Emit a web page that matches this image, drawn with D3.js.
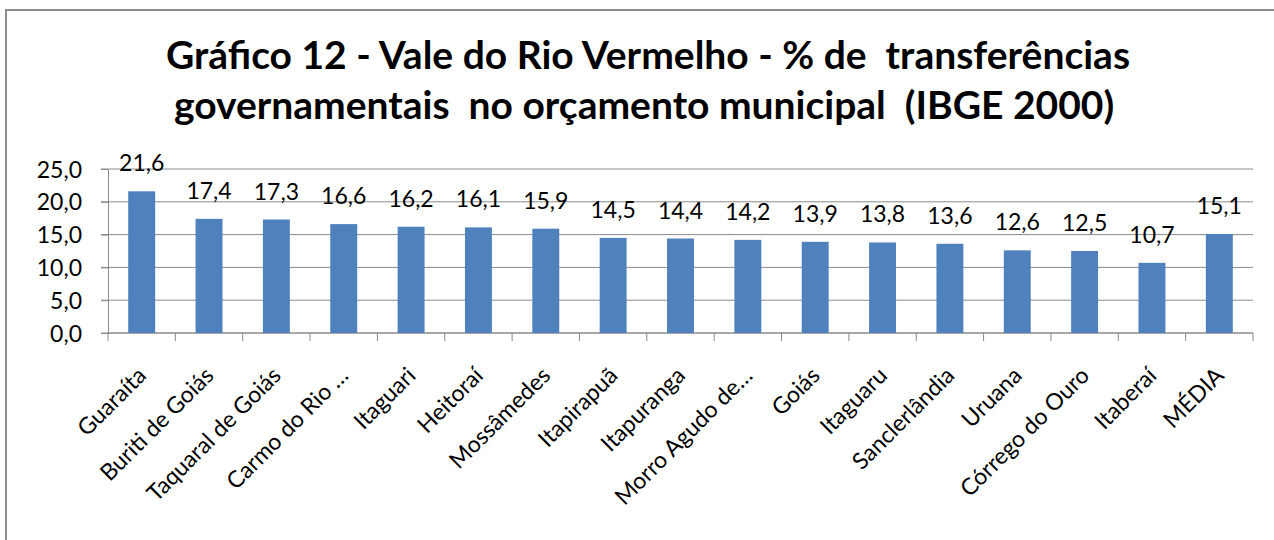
<!DOCTYPE html>
<html>
<head>
<meta charset="utf-8">
<script src="https://cdn.jsdelivr.net/npm/d3@7"></script>
<style>
  body { margin: 0; background: #fff; }
  svg { display: block; font-family: Lato, "Open Sans", sans-serif; }
</style>
</head>
<body>
<svg></svg>
<script>
// chart data
var municipios = ["Guaraíta", "Buriti de Goiás", "Taquaral de Goiás", "Carmo do Rio …", "Itaguari",
  "Heitoraí", "Mossâmedes", "Itapirapuã", "Itapuranga", "Morro Agudo de…", "Goiás",
  "Itaguaru", "Sanclerlândia", "Uruana", "Córrego do Ouro", "Itaberaí", "MÉDIA"];
var percentuais = [21.6, 17.4, 17.3, 16.6, 16.2, 16.1, 15.9, 14.5, 14.4, 14.2, 13.9, 13.8, 13.6, 12.6, 12.5, 10.7, 15.1];
var yTicks = [0, 5, 10, 15, 20, 25];
var titulo = ["Gráfico 12 - Vale do Rio Vermelho - % de  transferências",
  "governamentais  no orçamento municipal  (IBGE 2000)"];

window.onload = function(){
  var svg = d3.select("svg")
    .attr("width", 1274)
    .attr("height", 540);

  // outer chart frame
  svg.append("rect")
    .attr("x", 6).attr("y", 10)
    .attr("width", 1300).attr("height", 560)
    .attr("fill", "none")
    .attr("stroke", "#8c8c8c")
    .attr("stroke-width", 2);

  // title
  svg.append("text")
    .attr("text-anchor", "middle")
    .style("font-size", "39px")
    .style("font-weight", "bold")
    .attr("fill", "#000")
    .selectAll("tspan")
    .data(titulo)
    .enter()
    .append("tspan")
    .attr("x", function(d, i){ return i ? 644 : 648; })
    .attr("y", function(d, i){ return 69 + i * 50; })
    .style("white-space", "pre")
    .text(function(d){ return d; });

  var left = 108, right = 1253, top = 169, bottom = 333;

  var x = d3.scaleBand()
    .domain(municipios)
    .range([left, right]);

  var y = d3.scaleLinear()
    .domain([0, 25])
    .range([bottom, top]);

  // gridlines
  svg.append("g")
    .selectAll("line")
    .data(yTicks)
    .enter()
    .append("line")
    .attr("x1", left - 7)
    .attr("x2", right)
    .attr("y1", function(d){ return y(d); })
    .attr("y2", function(d){ return y(d); })
    .attr("stroke", "#8a8a8a")
    .attr("stroke-width", 1);

  // y axis
  var yAxis = svg.append("g")
    .attr("transform", "translate(" + left + ",0)")
    .call(d3.axisLeft(y).tickValues(yTicks).tickSize(7)
      .tickFormat(function(d){ return d3.format(".1f")(d).replace(".", ","); }));
  yAxis.select(".domain").attr("stroke", "#8a8a8a");
  yAxis.selectAll(".tick line").attr("stroke", "#8a8a8a");
  yAxis.selectAll("text")
    .attr("x", -26)
    .attr("dy", "0.35em")
    .style("font-size", "23px")
    .style("font-family", "Lato, sans-serif")
    .attr("fill", "#000");

  // x axis baseline and tick marks between categories
  svg.append("line")
    .attr("x1", left).attr("x2", right)
    .attr("y1", bottom).attr("y2", bottom)
    .attr("stroke", "#8a8a8a");
  var bounds = municipios.map(function(d){ return x(d); }).concat([right]);
  svg.append("g")
    .selectAll("line")
    .data(bounds)
    .enter()
    .append("line")
    .attr("x1", function(d){ return d; })
    .attr("x2", function(d){ return d; })
    .attr("y1", bottom)
    .attr("y2", bottom + 8)
    .attr("stroke", "#8a8a8a");

  // bars
  var barW = x.bandwidth() * 0.4;
  svg.append("g")
    .selectAll("rect")
    .data(percentuais)
    .enter()
    .append("rect")
    .attr("x", function(d, i){ return x(municipios[i]) + (x.bandwidth() - barW) / 2; })
    .attr("y", function(d){ return y(d); })
    .attr("width", barW)
    .attr("height", function(d){ return bottom - y(d); })
    .attr("fill", "#4f81bd");

  // value labels
  svg.append("g")
    .selectAll("text")
    .data(percentuais)
    .enter()
    .append("text")
    .attr("x", function(d, i){ return x(municipios[i]) + x.bandwidth() / 2; })
    .attr("y", function(d){ return y(d) - 20; })
    .attr("text-anchor", "middle")
    .style("font-size", "23px")
    .attr("fill", "#000")
    .text(function(d){ return d3.format(".1f")(d).replace(".", ","); });

  // category labels, rotated
  svg.append("g")
    .selectAll("text")
    .data(municipios)
    .enter()
    .append("text")
    .attr("transform", function(d){
      return "translate(" + (x(d) + x.bandwidth() / 2 + 6) + "," + 377 + ") rotate(-45)";
    })
    .attr("text-anchor", "end")
    .style("font-size", "23px")
    .attr("fill", "#000")
    .text(function(d){ return d; });
};
</script>
</body>
</html>
